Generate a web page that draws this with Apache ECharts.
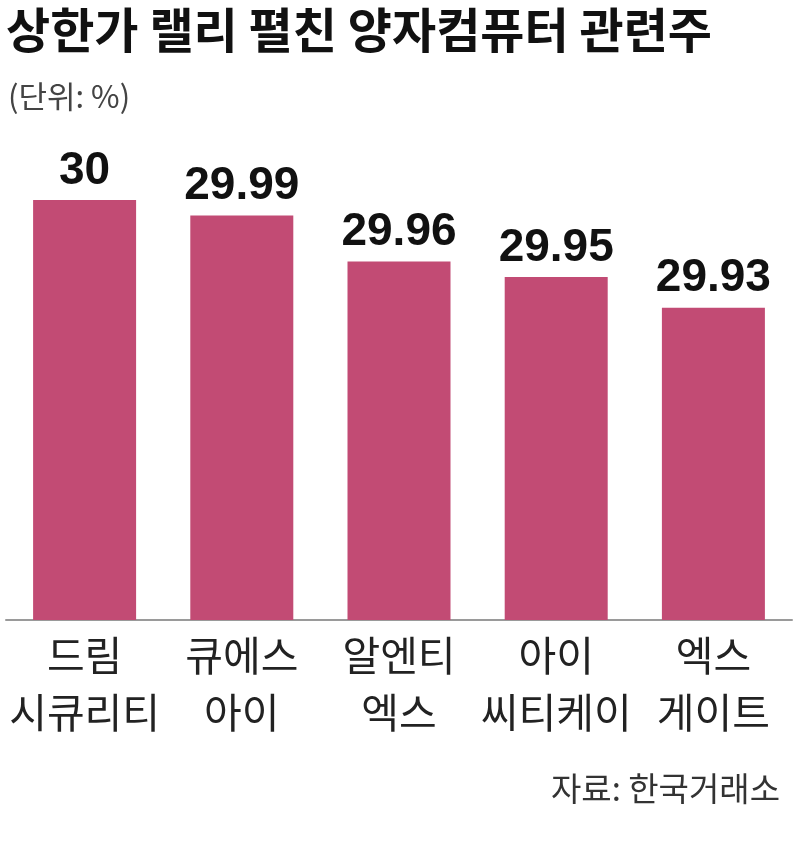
<!DOCTYPE html>
<html>
<head>
<meta charset="utf-8">
<script src="https://cdn.jsdelivr.net/npm/echarts@6/dist/echarts.min.js"></script>
<style>
html,body{margin:0;padding:0;background:#fff;}
#chart{width:800px;height:861px;}
</style>
</head>
<body>
<div id="chart"></div>
<script>
const titleText = '상한가 랠리 펼친 양자컴퓨터 관련주';
const unitText = '(단위: %)';
const sourceText = '자료: 한국거래소';
const categories = ['드림\n시큐리티', '큐에스\n아이', '알엔티\n엑스', '아이\n씨티케이', '엑스\n게이트'];
const values = [30, 29.99, 29.96, 29.95, 29.93];
const valueLabels = ['30', '29.99', '29.96', '29.95', '29.93'];

const chart = echarts.init(document.getElementById('chart'));
chart.setOption({
  backgroundColor: '#ffffff',
  animation: false,
  title: [{
    text: titleText,
    left: 1, top: 1,
    textStyle: { fontFamily: 'Noto Sans CJK KR', fontWeight: 'bold', fontSize: 48, color: '#111111' }
  }, {
    text: unitText,
    left: 3, top: 76,
    textStyle: { fontFamily: 'Noto Sans CJK KR', fontWeight: 'normal', fontSize: 31, color: '#444444' }
  }],
  graphic: [{
    type: 'text',
    right: 20, top: 772,
    style: { text: sourceText, font: '33px "Noto Sans CJK KR"', fill: '#333333' }
  }],
  grid: { left: 6, width: 786, top: 200, bottom: 241, containLabel: false },
  xAxis: {
    type: 'category',
    data: categories,
    axisLine: { lineStyle: { color: '#9a9a9a', width: 2 } },
    axisTick: { show: false },
    axisLabel: {
      interval: 0, margin: 7,
      fontFamily: 'Noto Sans CJK KR', fontSize: 41, lineHeight: 57, color: '#222222'
    }
  },
  yAxis: {
    type: 'value',
    min: 29.727, max: 30,
    show: false,
    splitLine: { show: false }
  },
  series: [{
    type: 'bar',
    data: values.map((v, i) => ({ value: v, label: { formatter: valueLabels[i] } })),
    barWidth: 103,
    itemStyle: { color: '#c24b74' },
    label: {
      show: true, position: 'top', distance: 6,
      fontFamily: '"Liberation Sans", Arial, sans-serif',
      fontWeight: 'bold', fontSize: 46, color: '#111111'
    }
  }]
});
</script>
</body>
</html>
